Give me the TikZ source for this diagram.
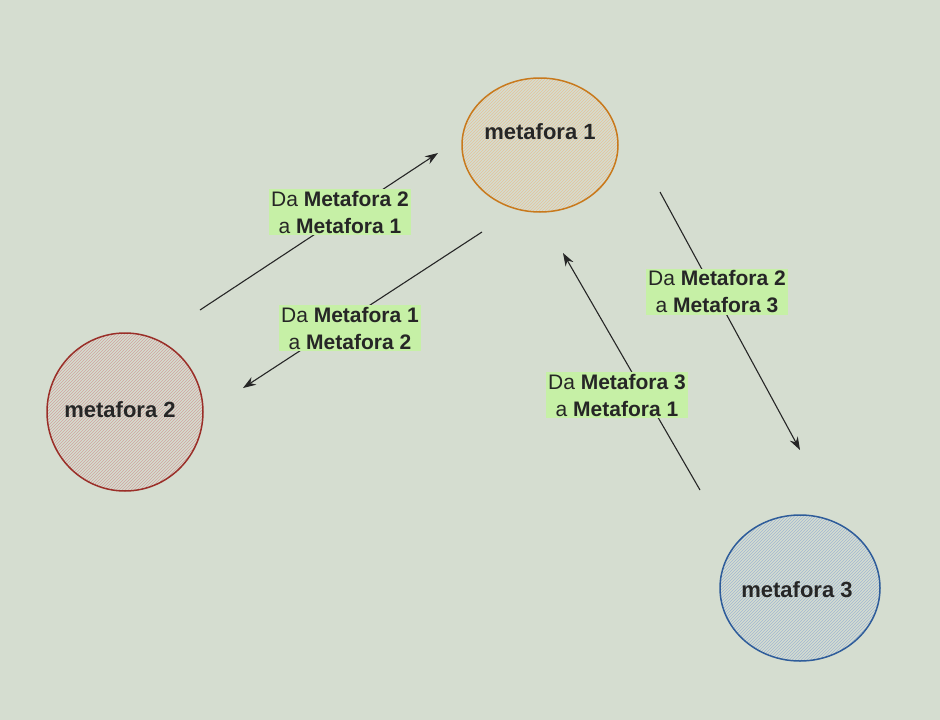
\documentclass[tikz,border=0pt]{standalone}
\usepackage{fontspec}
\setmainfont{Liberation Sans}
\usetikzlibrary{patterns,arrows.meta,shapes.geometric}
\definecolor{bg}{HTML}{D5DDD0}
\definecolor{lab}{HTML}{C6F0A6}
\definecolor{c1}{HTML}{C8791C}
\definecolor{c2}{HTML}{9A2E28}
\definecolor{c3}{HTML}{2E5C9A}
\tikzset{
  meta/.style={ellipse,draw=#1,line width=1.5pt,pattern=north east lines,pattern color=#1!45},
  mtxt/.style={font=\bfseries\fontsize{22}{26}\selectfont,text=black!85},
  lbl/.style={fill=lab,align=center,font=\fontsize{21}{27}\selectfont,inner sep=2pt,text=black!85},
  arr/.style={-{Stealth[length=13pt,width=9pt]},line width=1.1pt,black!85}
}
\begin{document}
\begin{tikzpicture}[x=1pt,y=-1pt]
\fill[bg] (0,0) rectangle (940,720);
\useasboundingbox (0,0) rectangle (940,720);
\node[meta=c1,minimum width=156pt,minimum height=134pt,inner sep=0pt] (m1) at (540,145) {};
\node[mtxt] (t1) at (540,132) {metafora 1};
\node[meta=c2,minimum width=156pt,minimum height=158pt,inner sep=0pt] (m2) at (125,412) {};
\node[mtxt] (t2) at (120,410) {metafora 2};
\node[meta=c3,minimum width=160pt,minimum height=146pt,inner sep=0pt] (m3) at (800,588) {};
\node[mtxt] (t3) at (797,590) {metafora 3};
\coordinate (a1) at (200,310); \coordinate (b1) at (438,153);
\coordinate (a2) at (482,232); \coordinate (b2) at (243,388);
\coordinate (a3) at (700,490); \coordinate (b3) at (563,253);
\coordinate (a4) at (660,192); \coordinate (b4) at (800,450);
\draw[arr] (a1) -- (b1);
\draw[arr] (a2) -- (b2);
\draw[arr] (a3) -- (b3);
\draw[arr] (a4) -- (b4);
\node[lbl] (l1) at (340,212) {Da \textbf{Metafora 2}\\a \textbf{Metafora 1}};
\node[lbl] (l2) at (350,328) {Da \textbf{Metafora 1}\\a \textbf{Metafora 2}};
\node[lbl] (l3) at (617,395) {Da \textbf{Metafora 3}\\a \textbf{Metafora 1}};
\node[lbl] (l4) at (717,292) {Da \textbf{Metafora 2}\\a \textbf{Metafora 3}};
\end{tikzpicture}
\end{document}
